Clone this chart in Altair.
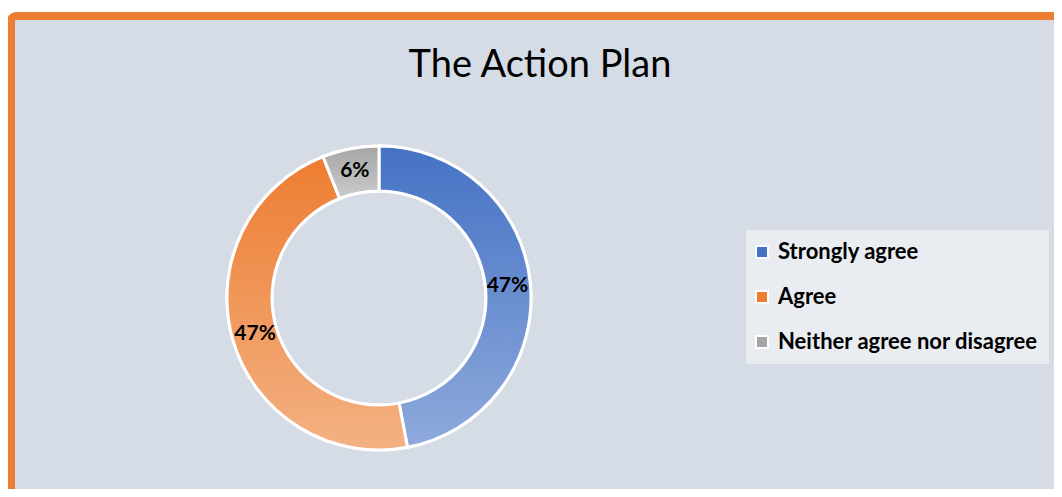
import altair as alt
import pandas as pd

categories = ["Strongly agree", "Agree", "Neither agree nor disagree"]
values = [47, 47, 6]
labels = ["47%", "47%", "6%"]
solid_colors = ["#4472c4", "#ed7d31", "#a5a5a5"]
top_colors = ["#4472c4", "#ed7d31", "#a5a5a5"]
bottom_colors = ["#8faadc", "#f4b183", "#cbcbcb"]

df = pd.DataFrame({"cat": categories, "value": values, "label": labels,
                   "order": list(range(len(categories)))})

W, H = 1046, 481
CX, CY = 371, 290
BG = "#d6dce5"

th_scale = alt.Scale(domain=[0, 100], range=[0, 6.283185307179586])

base = alt.Chart(df).transform_window(
    cum="sum(value)", sort=[alt.SortField("order")], frame=[None, 0]
).transform_calculate(
    start="datum.cum - datum.value",
    mid="datum.cum - datum.value / 2",
)

frame = alt.Chart(alt.Data(values=[{"a": 1}])).mark_rect(
    fill=BG, stroke="#ed7d31", strokeWidth=8, cornerRadius=5
).encode(x=alt.value(3), y=alt.value(8), x2=alt.value(1400), y2=alt.value(900))

title = alt.Chart(alt.Data(values=[{"a": 1}])).mark_text(
    font="Lato", fontSize=38, color="#000000", baseline="alphabetic", align="center"
).encode(x=alt.value(532), y=alt.value(69), text=alt.value("The Action Plan"))

arc_kw = dict(innerRadius=107, outerRadius=152, stroke="white", strokeWidth=3)

solid = base.mark_arc(**arc_kw).encode(
    theta=alt.Theta("start:Q", scale=th_scale),
    theta2="cum:Q",
    color=alt.Color(
        "cat:N",
        scale=alt.Scale(domain=categories, range=solid_colors),
        legend=alt.Legend(
            title=None, orient="none", legendX=738, legendY=222,
            fillColor="#e9ecf1", padding=11,
            symbolType="square", symbolSize=144, symbolStrokeColor="white",
            symbolStrokeWidth=2, symbolOpacity=1, symbolOffset=-6,
            labelFont="Lato", labelFontSize=22, labelFontWeight="bold",
            labelColor="#000000", rowPadding=23, labelOffset=5,
            labelLimit=400,
        ),
    ),
    x=alt.value(CX), y=alt.value(CY),
)

layers = [frame, title, solid]
for i, c in enumerate(categories):
    grad = {"gradient": "linear", "x1": 0, "y1": 0, "x2": 0, "y2": 1,
            "stops": [{"offset": 0, "color": top_colors[i]},
                      {"offset": 1, "color": bottom_colors[i]}]}
    layers.append(
        base.transform_filter(alt.datum.cat == c).mark_arc(**arc_kw).encode(
            theta=alt.Theta("start:Q", scale=th_scale),
            theta2="cum:Q",
            fill=alt.value(grad),
            x=alt.value(CX), y=alt.value(CY),
        )
    )

text = base.mark_text(font="Lato", fontSize=21, fontWeight="bold", color="#000000").encode(
    theta=alt.Theta("mid:Q", scale=th_scale),
    radius=alt.value(129),
    text="label:N",
    x=alt.value(CX), y=alt.value(CY),
)
layers.append(text)

chart = alt.layer(*layers).properties(
    width=W, height=H, autosize=alt.AutoSizeParams(type="none"), padding=0,
    background="white",
).configure_view(strokeWidth=0)

chart.save("out.html", embed_options={"renderer": "svg", "actions": False})
